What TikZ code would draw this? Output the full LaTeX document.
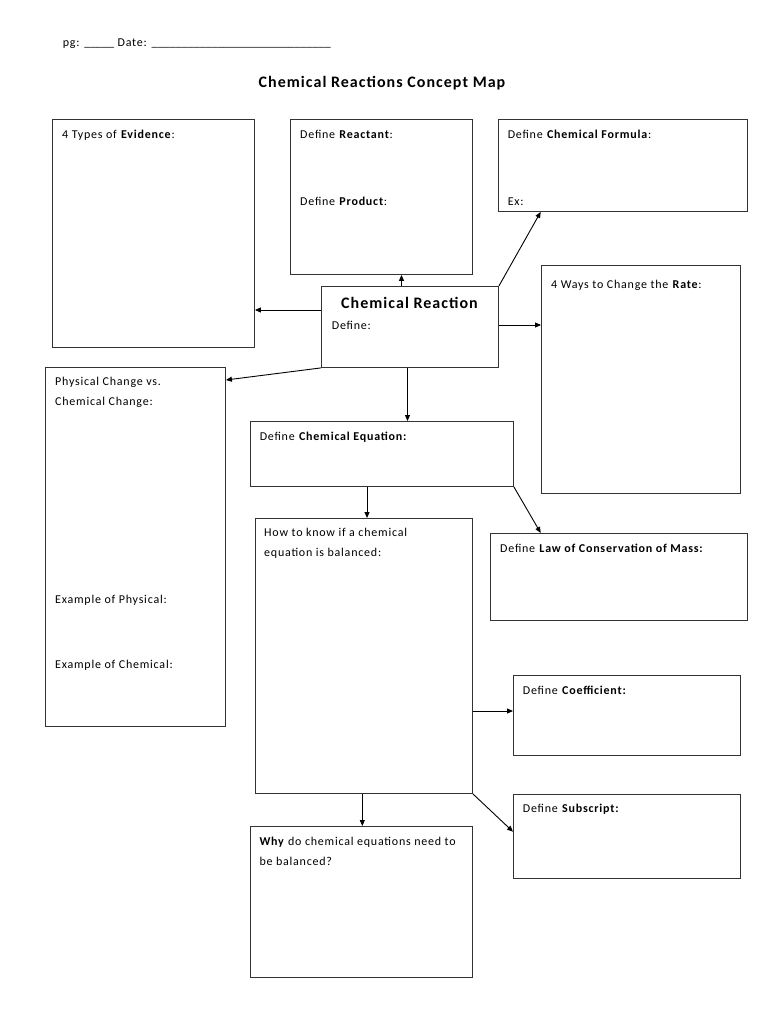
\documentclass[tikz,border=0pt]{standalone}
\usepackage{fontspec}
\setmainfont{Carlito}
\newfontfamily\lsfont[LetterSpace=6.5]{Carlito}
\usetikzlibrary{arrows.meta,calc}
\begin{document}
\begin{tikzpicture}[x=1pt,y=-1pt,
  box/.style={draw=black!80, line width=0.9pt, inner sep=0pt, anchor=north west},
  txt/.style={anchor=base west, inner sep=0pt, font=\fontsize{12}{14}\lsfont},
  head/.style={inner sep=0pt, anchor=base, font=\fontsize{16}{19}\lsfont\bfseries},
  arr/.style={-{Triangle[length=6pt,width=5pt]}, line width=0.9pt, draw=black}]
\fill[white] (0,0) rectangle (770,1024);
\useasboundingbox (0,0) rectangle (770,1024);
% header
\node[txt] (hdr) at (62.7,46.7) {pg: {\normalfont\_\_\_\_\_} Date: {\normalfont\_\_\_\_\_\_\_\_\_\_\_\_\_\_\_\_\_\_\_\_\_\_\_\_\_\_\_\_\_\_}};
\node[head] (title) at (382,88) {Chemical Reactions Concept Map};
% boxes
\node[box, minimum width=202pt, minimum height=228pt] (ev) at (52,119) {};
\node[box, minimum width=182pt, minimum height=155pt] (rp) at (290,119) {};
\node[box, minimum width=249pt, minimum height=92pt] (cf) at (498,119) {};
\node[box, minimum width=177pt, minimum height=81pt] (cr) at (321,286) {};
\node[box, minimum width=199pt, minimum height=228pt] (rt) at (541,265) {};
\node[box, minimum width=180pt, minimum height=359pt] (pc) at (45,367) {};
\node[box, minimum width=263pt, minimum height=65pt] (ce) at (250,421) {};
\node[box, minimum width=217pt, minimum height=275pt] (hk) at (255,518) {};
\node[box, minimum width=257pt, minimum height=87pt] (lc) at (490,533) {};
\node[box, minimum width=227pt, minimum height=80pt] (co) at (513,675) {};
\node[box, minimum width=227pt, minimum height=84pt] (su) at (513,794) {};
\node[box, minimum width=222pt, minimum height=151pt] (wh) at (250,826) {};
% texts
\node[txt] (evt) at (62,139) {4 Types of \textbf{Evidence}:};
\node[txt] (rpt1) at (300,139) {Define \textbf{Reactant}:};
\node[txt] (rpt2) at (300,205.7) {Define \textbf{Product}:};
\node[txt] (cft1) at (507.6,139) {Define \textbf{Chemical Formula}:};
\node[txt] (cft2) at (507.6,205.7) {Ex:};
\node[head] (crt1) at (409.5,308.5) {Chemical Reaction};
\node[txt] (crt2) at (331.7,329.7) {Define:};
\node[txt] (rtt) at (551,288.3) {4 Ways to Change the \textbf{Rate}:};
\node[txt] (pct1) at (55,385.7) {Physical Change vs.};
\node[txt] (pct2) at (55,405.7) {Chemical Change:};
\node[txt] (pct3) at (55,603.3) {Example of Physical:};
\node[txt] (pct4) at (55,668) {Example of Chemical:};
\node[txt] (cet) at (259.6,440) {Define \textbf{Chemical Equation:}};
\node[txt] (hkt1) at (264,536.7) {How to know if a chemical};
\node[txt] (hkt2) at (264,556.7) {equation is balanced:};
\node[txt] (lct) at (500,552) {Define \textbf{Law of Conservation of Mass:}};
\node[txt] (cot) at (522.7,694) {Define \textbf{Coefficient:}};
\node[txt] (sut) at (522.7,812.3) {Define \textbf{Subscript:}};
\node[txt] (wht1) at (259.3,845.3) {\textbf{Why} do chemical equations need to};
\node[txt] (wht2) at (259.3,865.3) {be balanced?};
% arrows
\draw[arr] (cr.west |- 0,310) -- (ev.east |- 0,310);
\draw[arr] (401.5,0 |- cr.north) -- (401.5,0 |- rp.south);
\draw[arr] (cr.north east) -- (540.7,0 |- cf.south);
\draw[arr] (cr.east |- 0,325) -- (rt.west |- 0,325);
\draw[arr] (cr.south west) -- (pc.east |- 0,380);
\draw[arr] (407.5,0 |- cr.south) -- (407.5,0 |- ce.north);
\draw[arr] (367,0 |- ce.south) -- (367,0 |- hk.north);
\draw[arr] (ce.south east) -- (540.7,0 |- lc.north);
\draw[arr] (hk.east |- 0,711) -- (co.west |- 0,711);
\draw[arr] (362.3,0 |- hk.south) -- (362.3,0 |- wh.north);
\draw[arr] (hk.south east) -- (su.west |- 0,831.7);
\end{tikzpicture}
\end{document}
